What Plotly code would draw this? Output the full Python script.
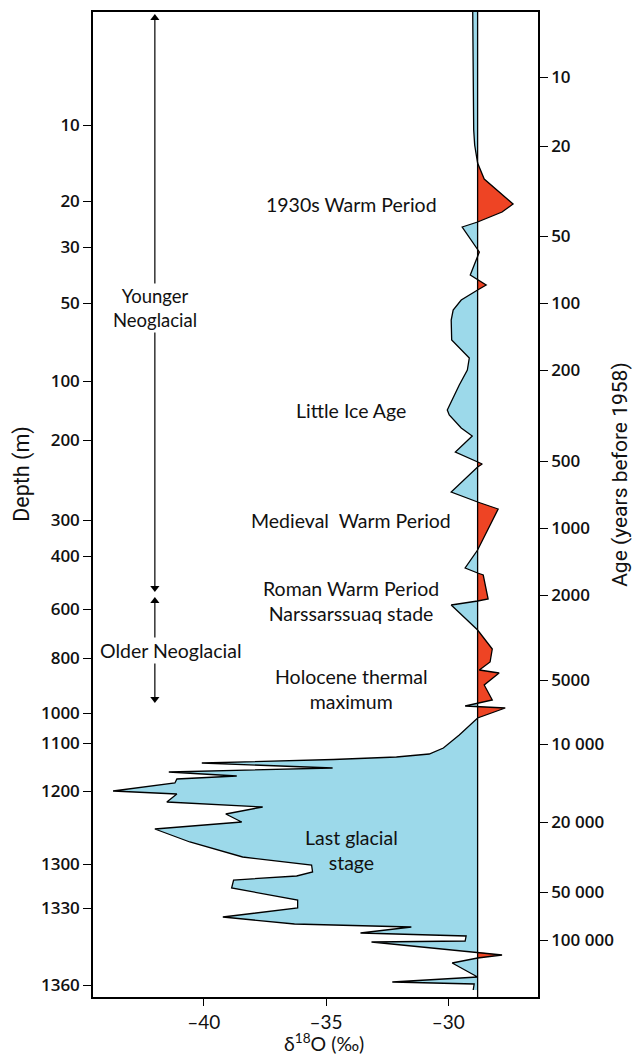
import plotly.graph_objects as go

# ---------------- data ----------------
# vertical axis is the chart's (non-linear) core scale; ticks labelled with depth and age
depth_labels = ["10", "20", "30", "50", "100", "200", "300", "400", "600", "800",
                "1000", "1100", "1200", "1300", "1330", "1360"]
depth_scale = [125, 201, 247, 303, 381, 440, 520, 556, 609, 658, 713, 743, 791, 864, 908, 985]

age_labels = ["10", "20", "50", "100", "200", "500", "1000", "2000", "5000",
              "10 000", "20 000", "50 000", "100 000"]
age_scale = [77, 146, 236, 303, 370, 461, 528, 595, 680, 744, 822, 892, 940]

# delta-18O profile (per mil) against core scale position
profile_scale = [12, 60, 100, 130, 145, 155, 163, 179, 204, 212, 222, 227, 252, 275, 285, 290,
                 300, 310, 320, 340, 358, 370, 385, 410, 415, 428, 436, 452, 464, 467,
                 492, 502, 509, 550, 568, 573, 575, 599, 601, 605, 630, 649, 662, 670, 673,
                 685, 700, 706, 708, 718, 723, 735, 748, 754, 757, 759.5, 763, 768, 772, 776,
                 779, 783, 791, 794, 802, 807, 814, 822, 829, 842, 857, 865, 872, 876, 880,
                 888, 900, 908, 917, 924, 927, 933, 936, 941, 942, 952, 955, 958, 963, 977,
                 982, 984, 990]
profile_d18o = [-29.00, -28.99, -28.98, -28.96, -28.92, -28.86, -28.80, -28.53, -27.35, -27.80,
                -28.80, -29.43, -28.73, -29.10, -28.45, -28.80,
                -29.47, -29.80, -29.88, -29.86, -29.14, -29.22, -29.55, -30.04, -29.96, -29.47,
                -29.02, -29.71, -28.61, -28.80,
                -29.88, -28.80, -27.96, -28.80, -29.31, -28.80, -28.57, -28.37, -28.80, -29.88,
                -28.80, -28.20, -28.29, -28.73, -27.92,
                -28.53, -28.20, -29.31, -27.67, -28.80, -29.02, -29.55, -30.20, -30.78, -32.12,
                -34.70, -40.08, -34.73, -41.43, -38.65,
                -41.10, -41.18, -43.71, -41.10, -41.51, -37.59, -39.10, -38.45, -42.00, -40.57,
                -38.41, -35.59, -35.55, -36.20, -38.78,
                -38.86, -36.16, -36.16, -39.22, -36.29, -31.51, -33.59, -29.27, -29.31, -33.14,
                -28.80, -27.80, -28.80, -29.84, -28.80,
                -32.29, -28.94, -28.98]
mean_d18o = -28.8

period_labels = ["1930s Warm Period", "Little Ice Age", "Medieval  Warm Period",
                 "Roman Warm Period<br>Narssarssuaq stade", "Holocene thermal<br>maximum",
                 "Last glacial<br>stage"]
period_scale = [204, 410, 520, 601, 689, 850]

neoglacial_labels = ["Younger<br>Neoglacial", "Older Neoglacial"]
neoglacial_spans = [(14, 592), (597, 703)]

# ---------------- style ----------------
BLUE = "#9cd9ea"
RED = "#ee4424"
FONT = "Lato, 'Open Sans', sans-serif"
TICK_FONT = "'Open Sans', Lato, sans-serif"
TITLE_FONT = "Roboto, sans-serif"
Y_TOP, Y_BOT = 12, 997
X_MIN, X_MAX = -44.53, -26.33
ARROW_X = -42.0


def split_at_mean(ys, vs, base):
    pts = []
    for i in range(len(ys)):
        if i > 0:
            d0, d1 = vs[i - 1] - base, vs[i] - base
            if d0 * d1 < 0:
                t = d0 / (d0 - d1)
                pts.append((ys[i - 1] + t * (ys[i] - ys[i - 1]), base))
        pts.append((ys[i], vs[i]))
    yy = [p[0] for p in pts]
    lo = [min(p[1], base) for p in pts]
    hi = [max(p[1], base) for p in pts]
    return yy, lo, hi


yy, lo, hi = split_at_mean(profile_scale, profile_d18o, mean_d18o)

fig = go.Figure()
fig.add_trace(go.Scatter(x=[mean_d18o] + lo + [mean_d18o], y=[yy[0]] + yy + [yy[-1]],
                         fill="toself", fillcolor=BLUE, mode="none", hoverinfo="skip"))
fig.add_trace(go.Scatter(x=[mean_d18o] + hi + [mean_d18o], y=[yy[0]] + yy + [yy[-1]],
                         fill="toself", fillcolor=RED, mode="none", hoverinfo="skip"))
fig.add_trace(go.Scatter(x=profile_d18o, y=profile_scale, mode="lines",
                         line=dict(color="black", width=1.3)))
fig.add_trace(go.Scatter(x=[mean_d18o, mean_d18o], y=[Y_TOP, Y_BOT], mode="lines",
                         line=dict(color="black", width=1.3), yaxis="y2"))

# double-headed arrows for the Neoglacial periods
for a, b in neoglacial_spans:
    fig.add_trace(go.Scatter(x=[ARROW_X, ARROW_X], y=[a + 4, b - 4], mode="lines+markers",
                             line=dict(color="black", width=1.2),
                             marker=dict(symbol=["triangle-up", "triangle-down"], size=8,
                                         color="black", line=dict(width=0)),
                             hoverinfo="skip"))

fig.add_annotation(x=ARROW_X, y=308, text=neoglacial_labels[0], showarrow=False,
                   bgcolor="white", font=dict(family=FONT, size=18.5, color="#111"))
fig.add_annotation(x=-41.35, y=650, text=neoglacial_labels[1], showarrow=False,
                   bgcolor="white", font=dict(family=FONT, size=19.5, color="#111"))

for lab, ys in zip(period_labels, period_scale):
    fig.add_annotation(x=-33.96, y=ys, text=lab, showarrow=False,
                       font=dict(family=FONT, size=19.5, color="#111"))

# axis titles drawn as annotations
fig.add_annotation(xref="paper", yref="paper", x=-0.16, y=0.531, xanchor="center",
                   yanchor="middle", text="Depth (m)", textangle=-90, showarrow=False,
                   font=dict(family=TITLE_FONT, size=21.5, color="#111"))
fig.add_annotation(xref="paper", yref="paper", x=1.184, y=0.531, xanchor="center",
                   yanchor="middle", text="Age (years before 1958)", textangle=-90,
                   showarrow=False, font=dict(family=TITLE_FONT, size=21, color="#111"))
fig.add_annotation(xref="paper", yref="paper", x=0.52, y=-0.046, xanchor="center",
                   yanchor="middle", text="δ<sup>18</sup>O (‰)", showarrow=False,
                   font=dict(family=FONT, size=19.5, color="#111"))

tickfont = dict(family=TICK_FONT, size=17, color="#111", weight=600)

fig.update_layout(
    width=632, height=1057, autosize=False,
    margin=dict(l=93, r=94, t=12, b=60),
    paper_bgcolor="white", plot_bgcolor="white",
    showlegend=False,
    xaxis=dict(range=[X_MIN, X_MAX], tickvals=[-40, -35, -30], ticktext=["–40", "–35", "–30"],
               ticks="outside", ticklen=7, tickwidth=1.3, tickcolor="black",
               showline=True, linecolor="black", linewidth=1.5, mirror=True,
               showgrid=False, zeroline=False, automargin=False,
               tickfont=dict(family=FONT, size=19, color="#111")),
    yaxis=dict(range=[Y_BOT, Y_TOP], tickvals=depth_scale, ticktext=depth_labels,
               ticks="outside", ticklen=8, tickwidth=1.3, tickcolor="black",
               showline=True, linecolor="black", linewidth=1.5, mirror=True,
               showgrid=False, zeroline=False, tickfont=tickfont, automargin=False),
    yaxis2=dict(range=[Y_BOT, Y_TOP], overlaying="y", side="right",
                tickvals=age_scale, ticktext=age_labels,
                ticks="outside", ticklen=8, tickwidth=1.3, tickcolor="black",
                showline=True, linecolor="black", linewidth=1.5,
                showgrid=False, zeroline=False, tickfont=tickfont, automargin=False),
)

# remove the browser's default 8px body margin so the figure fills the window exactly
fig.write_html("out.html", config={"displayModeBar": False},
               post_script="document.body.style.margin='0';")
